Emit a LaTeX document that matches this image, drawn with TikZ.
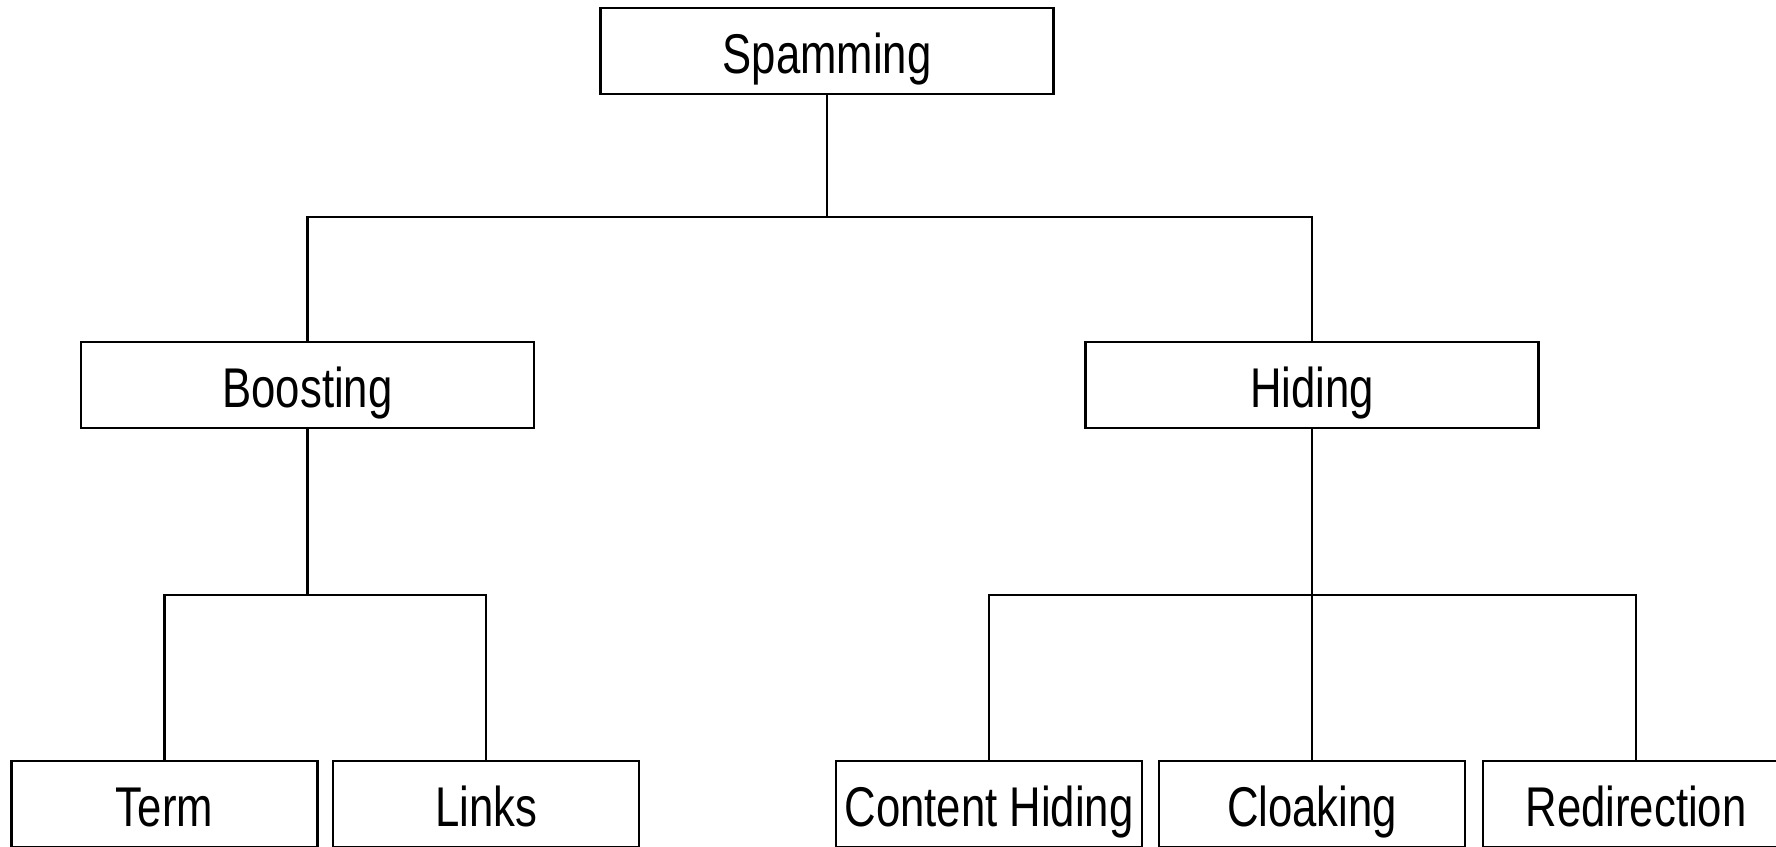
\documentclass[tikz,border=0pt]{standalone}
\usepackage{fontspec}
\setmainfont[FakeStretch=0.78]{Liberation Sans}
\usetikzlibrary{positioning}

\begin{document}
\begin{tikzpicture}
	[ x=0.5pt, y=-0.5pt,
	  box/.style={ draw, line width=1.2pt, minimum width=226.5pt, minimum height=43pt,
	  inner sep=0pt, text height=22.5pt, text depth=0pt,
	  font=\fontsize{28}{30}\selectfont },
	  leaf/.style={ box, minimum width=153pt },
	  link/.style={ draw, line width=1.2pt }
	]
	\useasboundingbox (0,0) rectangle (1776,846);
	% top level
	\node[box] (spam) at (827,51) {Spamming};
	\node[box] (boost) at (307.5,385) {Boosting};
	\node[box] (hide) at (1312,385) {Hiding};
	% leaves
	\node[leaf] (term) at (164.5,804) {Term};
	\node[leaf] (links) at (486,804) {Links};
	\node[leaf] (content) at (989,804) {Content Hiding};
	\node[leaf] (cloak) at (1312,804) {Cloaking};
	\node[leaf] (redir) at (1636,804) {Redirection};

	\coordinate (j1) at (827,217);
	\coordinate (j2) at (307.5,595);
	\coordinate (j3) at (1312,595);

	\draw[link] (spam.south) -- (j1);
	\foreach \a in {boost,hide}{
		\draw[link] (j1) -| (\a.north);
	}
	\draw[link] (boost.south) -- (j2);
	\foreach \a in {term,links}{
		\draw[link] (j2) -| (\a.north);
	}
	\draw[link] (hide.south) -- (j3);
	\foreach \a in {content,cloak,redir}{
		\draw[link] (j3) -| (\a.north);
	}
\end{tikzpicture}
\end{document}
